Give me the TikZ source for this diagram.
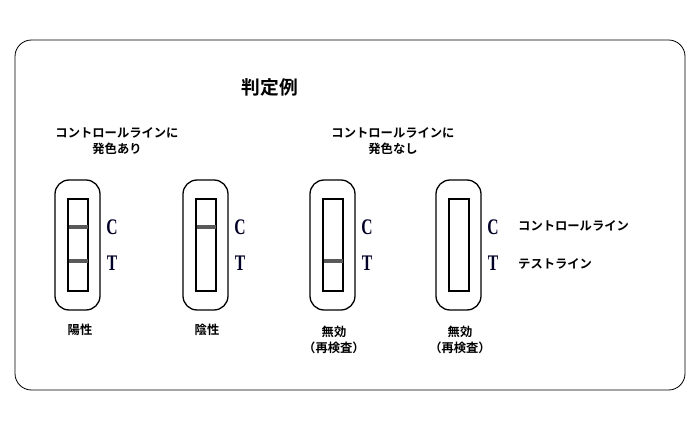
\documentclass[tikz,border=0pt]{standalone}
\usepackage{fontspec}
\newfontfamily\jp{Noto Sans CJK JP}[BoldFont={Noto Sans CJK JP Bold}]
\newfontfamily\ltr{Liberation Serif}
\begin{document}
\begin{tikzpicture}[x=0.03cm,y=-0.03cm,
  jptext/.style={font=\jp\bfseries\fontsize{10.5}{14}\selectfont,align=center,inner sep=0pt},
  letter/.style={font=\ltr\bfseries\fontsize{19}{19}\selectfont,xscale=0.7,text=black!85!blue,inner sep=0pt},
  band/.style={line width=3.5pt,draw=black!65}]

\useasboundingbox (0,0) rectangle (698,429);
\draw[line width=0.7pt,rounded corners=14pt] (15,40) rectangle (685,390);
\node[jptext,font=\jp\bfseries\fontsize{16}{18}\selectfont] (title) at (270,87) {判定例};
\node[jptext] (pos) at (117,141) {コントロールラインに\\発色あり};
\node[jptext] (neg) at (393,141) {コントロールラインに\\発色なし};

% cassettes
\foreach \x/\c/\t in {55/1/1,183/1/0,310/0/1,436/0/0}{
  \draw[line width=1.1pt,rounded corners=12pt] (\x,180) rectangle ++(45,130);
  \draw[line width=1.1pt] (\x+13,199) rectangle ++(20,92);
  \ifnum\c=1 \draw[band] (\x+13.5,227) -- (\x+32.5,227); \fi
  \ifnum\t=1 \draw[band] (\x+13.5,261) -- (\x+32.5,261); \fi
  \node[letter] at (\x+57,227) {C};
  \node[letter] at (\x+57,263) {T};
}

\node[jptext,anchor=west] (cline) at (518,226) {コントロールライン};
\node[jptext,anchor=west] (tline) at (518,264) {テストライン};

\node[jptext] (res1) at (80,330) {陽性};
\node[jptext] (res2) at (207,330) {陰性};
\node[jptext] (res3) at (334,340) {無効\\（再検査）};
\node[jptext] (res4) at (460,340) {無効\\（再検査）};
\end{tikzpicture}
\end{document}
